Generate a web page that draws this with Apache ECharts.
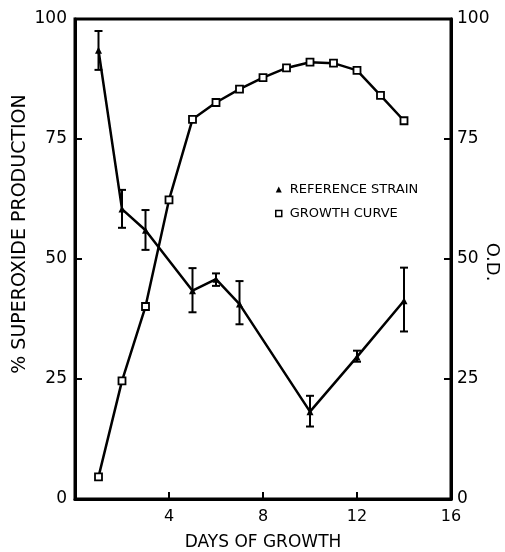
<!DOCTYPE html>
<html>
<head>
<meta charset="utf-8">
<script src="https://cdn.jsdelivr.net/npm/echarts@6/dist/echarts.min.js"></script>
<style>
  html, body { margin: 0; padding: 0; background: #fff; }
  #chart { width: 505px; height: 552px; }
</style>
</head>
<body>
<div id="chart"></div>
<script>
// reference strain: day, % superoxide, error low, error high
const strainDays = [1, 2, 3, 5, 6, 7, 10, 12, 14]
const strainValues = [93.5, 60.4, 56.0, 43.4, 45.8, 40.6, 18.2, 29.6, 41.3]
const strainLow = [89.4, 56.5, 51.9, 38.9, 44.4, 36.4, 15.1, 28.6, 34.9]
const strainHigh = [97.5, 64.4, 60.2, 48.1, 47.0, 45.4, 21.5, 30.9, 48.2]

// growth curve: day, O.D.
const growthDays = [1, 2, 3, 4, 5, 6, 7, 8, 9, 10, 11, 12, 13, 14]
const growthValues = [4.6, 24.6, 40.1, 62.3, 79.1, 82.6, 85.4, 87.8, 89.8, 91.0, 90.8, 89.3, 84.1, 78.8]

const xTicks = [0, 4, 8, 12, 16]
const yTicks = [0, 25, 50, 75, 100]

const font = 'DejaVu Sans'
const chart = echarts.init(document.getElementById('chart'))

const strainData = strainDays.map((d, i) => [d, strainValues[i]])
const errorData = strainDays.map((d, i) => [d, strainLow[i], strainHigh[i]])
const growthData = growthDays.map((d, i) => [d, growthValues[i]])

const option = {
  backgroundColor: '#fff',
  animation: false,
  grid: {
    left: 75, right: 54, top: 19, bottom: 53,
    outerBoundsMode: 'none',
    containLabel: false,
    show: true, borderColor: '#000', borderWidth: 3
  },
  xAxis: {
    type: 'value',
    min: xTicks[0],
    max: xTicks[xTicks.length - 1],
    interval: 4,
    name: 'DAYS OF GROWTH',
    nameLocation: 'middle',
    nameGap: 35,
    nameTextStyle: { fontFamily: font, fontSize: 17, color: '#000' },
    axisLine: { lineStyle: { color: '#000', width: 3 } },
    axisTick: { inside: true, length: 7, lineStyle: { color: '#000', width: 2 } },
    axisLabel: {
      margin: 10, fontFamily: font, fontSize: 16, color: '#000',
      formatter: v => (v === 0 ? '' : String(v))
    },
    splitLine: { show: false }
  },
  yAxis: [
    {
      type: 'value',
      min: yTicks[0],
      max: yTicks[yTicks.length - 1],
      interval: 25,
      position: 'left',
      axisLine: { show: true, lineStyle: { color: '#000', width: 3 } },
      axisTick: { show: true, inside: true, length: 7, lineStyle: { color: '#000', width: 2 } },
      axisLabel: { margin: 8, fontFamily: font, fontSize: 17, color: '#000' },
      splitLine: { show: false }
    },
    {
      type: 'value',
      min: yTicks[0],
      max: yTicks[yTicks.length - 1],
      interval: 25,
      position: 'right',
      axisLine: { show: true, lineStyle: { color: '#000', width: 3 } },
      axisTick: { show: true, inside: true, length: 7, lineStyle: { color: '#000', width: 2 } },
      axisLabel: { margin: 6, fontFamily: font, fontSize: 17, color: '#000' },
      splitLine: { show: false }
    }
  ],
  legend: {
    orient: 'vertical',
    left: 270,
    top: 178,
    itemGap: 11,
    itemWidth: 6,
    itemHeight: 6,
    textStyle: { fontFamily: font, fontSize: 13, color: '#000', padding: [0, 0, 0, 3] },
    data: [
      { name: 'REFERENCE STRAIN', icon: 'triangle', itemStyle: { color: '#000', borderWidth: 0 } },
      { name: 'GROWTH CURVE', icon: 'rect', itemStyle: { color: '#fff', borderColor: '#000', borderWidth: 1.5 } }
    ]
  },
  graphic: [
    {
      type: 'text', x: 20, y: 234, rotation: Math.PI / 2,
      style: { text: '% SUPEROXIDE PRODUCTION', font: '19px ' + font, fill: '#000', align: 'center', verticalAlign: 'middle' }
    },
    {
      type: 'text', x: 492, y: 262, rotation: -Math.PI / 2,
      style: { text: 'O.D.', font: '18px ' + font, fill: '#000', align: 'center', verticalAlign: 'middle' }
    }
  ],
  series: [
    {
      name: 'GROWTH CURVE',
      type: 'line',
      yAxisIndex: 1,
      data: growthData,
      symbol: 'rect',
      symbolSize: 7,
      showAllSymbol: true,
      lineStyle: { color: '#000', width: 2.5 },
      itemStyle: { color: '#fff', borderColor: '#000', borderWidth: 1.8 },
      z: 3
    },
    {
      name: 'REFERENCE STRAIN',
      type: 'line',
      yAxisIndex: 0,
      data: strainData,
      symbol: 'triangle',
      symbolSize: 7,
      showAllSymbol: true,
      lineStyle: { color: '#000', width: 2.5 },
      itemStyle: { color: '#000' },
      z: 4
    },
    {
      name: 'error',
      type: 'custom',
      yAxisIndex: 0,
      data: errorData,
      encode: { x: 0, y: [1, 2] },
      renderItem: function (params, api) {
        const lo = api.coord([api.value(0), api.value(1)])
        const hi = api.coord([api.value(0), api.value(2)])
        const w = 4
        const style = { stroke: '#000', lineWidth: 2 }
        return {
          type: 'group',
          children: [
            { type: 'line', shape: { x1: lo[0], y1: lo[1], x2: hi[0], y2: hi[1] }, style },
            { type: 'line', shape: { x1: hi[0] - w, y1: hi[1], x2: hi[0] + w, y2: hi[1] }, style },
            { type: 'line', shape: { x1: lo[0] - w, y1: lo[1], x2: lo[0] + w, y2: lo[1] }, style }
          ]
        }
      },
      z: 5
    }
  ]
}
chart.setOption(option)
</script>
</body>
</html>
